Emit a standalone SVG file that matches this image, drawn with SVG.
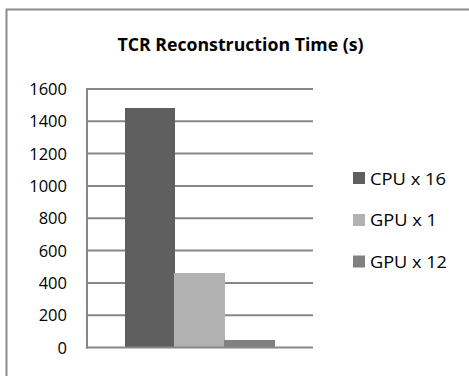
<svg xmlns="http://www.w3.org/2000/svg" width="469" height="376" viewBox="0 0 469 376">
  <style>
    text { font-family: "Open Sans", "Liberation Sans", Arial, sans-serif; fill: #000; }
    .title { font-size: 17px; font-weight: bold; }
    .tick { font-size: 16.5px; text-anchor: end; }
    .leg { font-size: 16.5px; }
    .grid { stroke: #878787; stroke-width: 2; fill: none; }
    .axis { stroke: #878787; stroke-width: 2; fill: none; }
  </style>
  <rect width="469" height="376" fill="#ffffff"/>
  <!-- chart frame -->
  <rect x="6.5" y="9.5" width="470" height="380" fill="none" stroke="#8c8c8c" stroke-width="2"/>
  <g id="title">
    <text class="title" x="240.5" y="51" text-anchor="middle" textLength="246" lengthAdjust="spacingAndGlyphs">TCR Reconstruction Time (s)</text>
  </g>
  <!-- gridlines and axes -->
  <g id="grid">
    <line class="grid" x1="87" y1="89" x2="313" y2="89"/>
    <line class="grid" x1="87" y1="121.3" x2="313" y2="121.3"/>
    <line class="grid" x1="87" y1="153.6" x2="313" y2="153.6"/>
    <line class="grid" x1="87" y1="186" x2="313" y2="186"/>
    <line class="grid" x1="87" y1="218.3" x2="313" y2="218.3"/>
    <line class="grid" x1="87" y1="250.6" x2="313" y2="250.6"/>
    <line class="grid" x1="87" y1="283" x2="313" y2="283"/>
    <line class="grid" x1="87" y1="315.3" x2="313" y2="315.3"/>
    <line class="axis" x1="87" y1="88" x2="87" y2="348.6"/>
  </g>
  <g id="ticks">
    <text class="tick" x="67" y="95">1600</text>
    <text class="tick" x="67" y="127.3">1400</text>
    <text class="tick" x="67" y="159.6">1200</text>
    <text class="tick" x="67" y="192">1000</text>
    <text class="tick" x="67" y="224.3">800</text>
    <text class="tick" x="67" y="256.6">600</text>
    <text class="tick" x="67" y="289">400</text>
    <text class="tick" x="67" y="321.3">200</text>
    <text class="tick" x="67" y="353.6">0</text>
  </g>
  <!-- bars -->
  <g id="bar-cpu16"><rect x="125" y="108" width="50" height="240" fill="#5f5f5f"/></g>
  <g id="bar-gpu1"><rect x="174" y="273" width="51" height="75" fill="#b2b2b2"/></g>
  <g id="bar-gpu12"><rect x="224" y="340" width="51" height="8" fill="#808080"/></g>
  <line class="axis" x1="86" y1="347.6" x2="313" y2="347.6"/>
  <!-- legend -->
  <g id="legend-cpu16">
    <rect x="353" y="172" width="12" height="12" fill="#5f5f5f"/>
    <text class="leg" x="370" y="184.5" textLength="76" lengthAdjust="spacingAndGlyphs">CPU x 16</text>
  </g>
  <g id="legend-gpu1">
    <rect x="353" y="214" width="12" height="12" fill="#b2b2b2"/>
    <text class="leg" x="370" y="226" textLength="67" lengthAdjust="spacingAndGlyphs">GPU x 1</text>
  </g>
  <g id="legend-gpu12">
    <rect x="353" y="255.5" width="12" height="12" fill="#808080"/>
    <text class="leg" x="370" y="267.5" textLength="77" lengthAdjust="spacingAndGlyphs">GPU x 12</text>
  </g>
</svg>
